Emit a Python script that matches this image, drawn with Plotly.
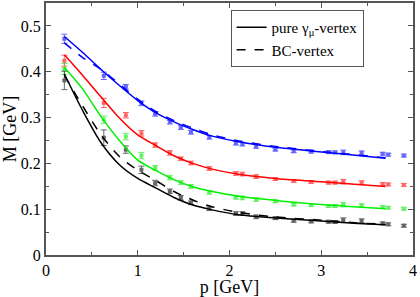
import plotly.graph_objects as go

# momentum values of lattice points (GeV)
p_pts = [0.2, 0.63, 0.87, 1.04, 1.19, 1.35, 1.47, 1.58, 1.78, 2.07, 2.14, 2.29,
         2.5, 2.7, 2.89, 3.08, 3.15, 3.24, 3.44, 3.67, 3.73, 3.9]

blue_M = [0.472, 0.391, 0.367, 0.331, 0.308, 0.290, 0.278, 0.268, 0.257, 0.244, 0.242, 0.237,
          0.230, 0.2265, 0.2257, 0.2245, 0.224, 0.224, 0.223, 0.221, 0.219, 0.217]
blue_err = [0.010, 0.008, 0.005, 0.005, 0.005, 0.004, 0.004, 0.004, 0.004, 0.004, 0.004, 0.004,
            0.003, 0.003, 0.003, 0.003, 0.003, 0.005, 0.004, 0.003, 0.003, 0.003]

red_M = [0.424, 0.332, 0.305, 0.2656, 0.240, 0.2228, 0.210, 0.2008, 0.1887, 0.178, 0.1766, 0.171,
         0.1658, 0.1616, 0.1594, 0.158, 0.158, 0.160, 0.158, 0.155, 0.154, 0.153]
red_err = [0.012, 0.010, 0.006, 0.006, 0.005, 0.005, 0.004, 0.004, 0.004, 0.004, 0.004, 0.004,
           0.003, 0.003, 0.003, 0.003, 0.003, 0.005, 0.004, 0.003, 0.003, 0.003]

green_M = [0.406, 0.2955, 0.2585, 0.217, 0.190, 0.1688, 0.158, 0.1496, 0.1368, 0.126, 0.1246, 0.121,
           0.1175, 0.110, 0.109, 0.107, 0.107, 0.110, 0.108, 0.1047, 0.103, 0.101]
green_err = [0.012, 0.008, 0.007, 0.007, 0.005, 0.005, 0.004, 0.004, 0.004, 0.004, 0.004, 0.004,
             0.003, 0.003, 0.003, 0.003, 0.003, 0.005, 0.004, 0.003, 0.003, 0.003]

black_M = [0.381, 0.256, 0.230, 0.186, 0.157, 0.139, 0.1246, 0.114, 0.101, 0.0904, 0.0904, 0.0833,
           0.0804, 0.0748, 0.0733, 0.0726, 0.072, 0.076, 0.0748, 0.069, 0.067, 0.064]
black_err = [0.020, 0.017, 0.008, 0.008, 0.006, 0.005, 0.005, 0.004, 0.004, 0.004, 0.004, 0.004,
             0.003, 0.003, 0.003, 0.003, 0.003, 0.005, 0.004, 0.003, 0.003, 0.003]

# fit curves
p_curve = [0.2, 0.4, 0.6, 0.8, 1.0, 1.2, 1.4, 1.6, 1.8, 2.1, 2.5, 3.0, 3.4, 3.7]
blue_solid = [0.477, 0.442, 0.405, 0.370, 0.337, 0.310, 0.290, 0.274, 0.260, 0.247, 0.235, 0.225, 0.217, 0.211]
blue_dash = [0.463, 0.431, 0.405, 0.373, 0.340, 0.313, 0.293, 0.277, 0.263, 0.249, 0.237, 0.226, 0.218, 0.212]
red_solid = [0.437, 0.392, 0.345, 0.299, 0.262, 0.2385, 0.216, 0.200, 0.188, 0.176, 0.167, 0.160, 0.154, 0.1496]
green_solid = [0.409, 0.362, 0.302, 0.250, 0.207, 0.184, 0.164, 0.149, 0.139, 0.128, 0.119, 0.110, 0.105, 0.101]
black_solid = [0.395, 0.315, 0.245, 0.197, 0.167, 0.146, 0.125, 0.109, 0.099, 0.088, 0.081, 0.074, 0.069, 0.066]
black_dash = [0.392, 0.325, 0.262, 0.215, 0.185, 0.162, 0.138, 0.120, 0.106, 0.093, 0.083, 0.076, 0.070, 0.067]

FONT = "Liberation Serif"
fig = go.Figure()

for M, err, col in [(blue_M, blue_err, "rgb(0,0,255)"), (red_M, red_err, "rgb(255,0,0)"),
                    (green_M, green_err, "rgb(0,230,0)"), (black_M, black_err, "rgb(0,0,0)")]:
    fig.add_trace(go.Scatter(
        x=p_pts, y=M, mode="markers", showlegend=False, opacity=0.6,
        marker=dict(symbol="square", size=4, color=col),
        error_y=dict(type="data", array=err, color=col, thickness=1, width=3)))

curves = [(blue_solid, "rgb(0,0,255)", "solid"), (blue_dash, "rgb(0,0,255)", "dash"),
          (red_solid, "rgb(255,0,0)", "solid"), (green_solid, "rgb(0,240,0)", "solid"),
          (black_solid, "black", "solid"), (black_dash, "black", "dash")]
for yv, col, dash in curves:
    fig.add_trace(go.Scatter(x=p_curve, y=yv, mode="lines", showlegend=False,
                             line=dict(color=col, width=1.5, dash=dash, shape="spline", smoothing=0.8)))

# legend entries
fig.add_trace(go.Scatter(x=[None], y=[None], mode="lines", name="pure γ<sub>μ</sub>-vertex",
                         line=dict(color="black", width=1.5)))
fig.add_trace(go.Scatter(x=[None], y=[None], mode="lines", name="BC-vertex",
                         line=dict(color="black", width=1.5, dash="dash")))

axis_common = dict(showgrid=False, zeroline=False, showline=True, linecolor="#555555", linewidth=2,
                   mirror="allticks", ticks="inside", ticklen=5, tickcolor="#555555",
                   tickfont=dict(family=FONT, size=16, color="black"))

fig.update_xaxes(range=[0, 4], dtick=1, tick0=0,
                 minor=dict(dtick=0.5, ticks="inside", ticklen=3, tickcolor="#555555"),
                 title=dict(text="p [GeV]", font=dict(family=FONT, size=18, color="black"), standoff=4),
                 **axis_common)
fig.update_yaxes(range=[0, 0.55], tick0=0,
                 minor=dict(dtick=0.05, ticks="inside", ticklen=3, tickcolor="#555555"),
                 title=dict(text="M [GeV]", font=dict(family=FONT, size=18, color="black"), standoff=2),
                 **axis_common)
fig.update_yaxes(tickvals=[0, 0.1, 0.2, 0.3, 0.4, 0.5], ticktext=["0", "0.1", "0.2", "0.3", "0.4", "0.5"])

fig.update_layout(
    width=420, height=297, margin=dict(l=46, r=7, t=1, b=39),
    paper_bgcolor="white", plot_bgcolor="white",
    font=dict(family=FONT, size=16, color="black"),
    legend=dict(x=0.503, y=0.972, xanchor="left", yanchor="top", bgcolor="white",
                bordercolor="#555555", borderwidth=1, font=dict(family=FONT, size=15),
                tracegroupgap=0, itemwidth=30),
)

fig.write_html("out.html", config={"displayModeBar": False},
               post_script="document.body.style.margin='0';document.body.style.overflow='hidden';")
